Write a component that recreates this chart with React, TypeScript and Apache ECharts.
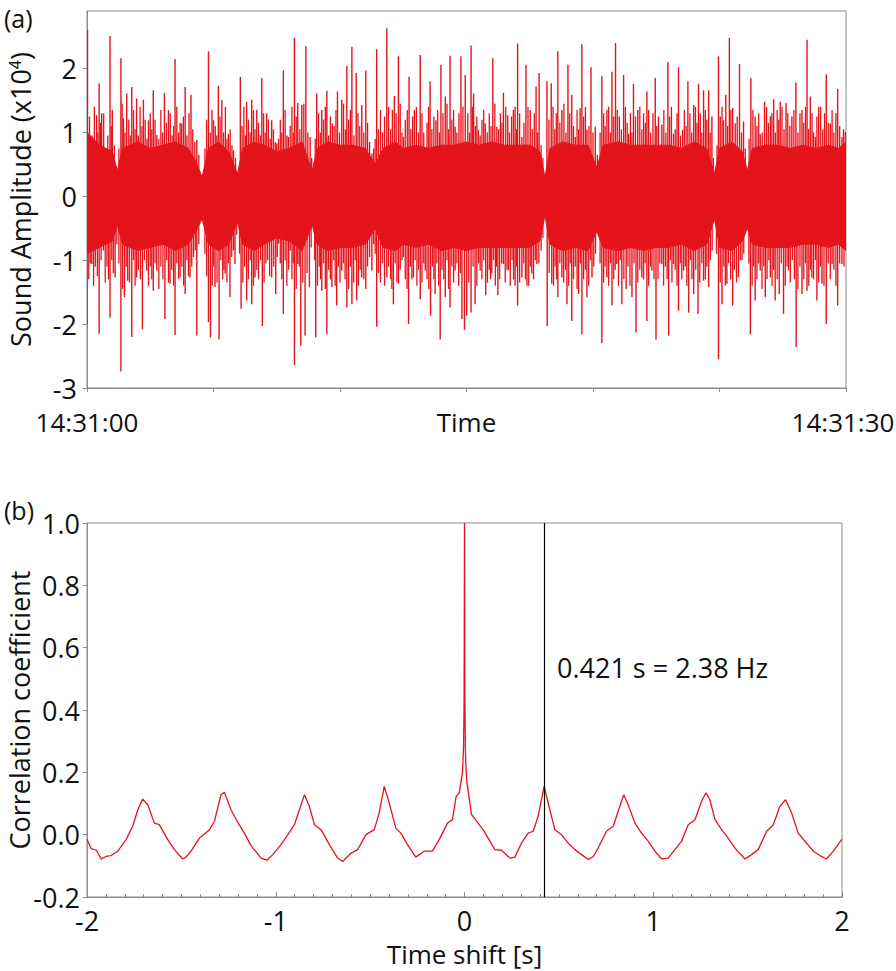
import { useEffect, useRef } from "react";
import * as echarts from "echarts";

// ---------- Panel (a): sound waveform (amplitude in units of 10^4) ----------
const timeTickSeconds = [0, 5, 10, 15, 20, 25, 30];
const timeTickLabels: Record<number, string> = { 0: "14:31:00", 15: "Time", 30: "14:31:30" };
const ampTicks = [-3, -2, -1, 0, 1, 2];

// dense core of the waveform (time in s from 14:31:00)
const coreTimes = [0, 0.5, 1.0, 1.2, 1.4, 2.0, 2.5, 3.0, 3.5, 4.0, 4.3, 4.55, 4.8, 5.2, 5.6, 5.95, 6.15, 6.6, 7.0, 7.5, 8.0, 8.5, 8.9, 9.1, 9.5, 10.0, 10.5, 11.0, 11.4, 11.7, 12.2, 12.5, 13.0, 13.5, 14.0, 14.5, 15.0, 15.5, 16.0, 16.5, 17.0, 17.5, 17.9, 18.1, 18.3, 18.8, 19.3, 19.8, 20.15, 20.4, 21.0, 21.5, 22.0, 22.5, 23.0, 23.5, 24.0, 24.5, 24.8, 25.0, 25.5, 25.9, 26.1, 26.3, 26.8, 27.3, 27.8, 28.3, 28.8, 29.3, 29.7, 30.0];
const coreTop = [1.0, 0.8, 0.7, 0.4, 0.75, 0.85, 0.75, 0.8, 0.85, 0.75, 0.55, 0.3, 0.75, 0.85, 0.7, 0.35, 0.75, 0.85, 0.8, 0.7, 0.75, 0.85, 0.4, 0.75, 0.85, 0.8, 0.8, 0.75, 0.5, 0.75, 0.85, 0.75, 0.8, 0.75, 0.8, 0.8, 0.85, 0.8, 0.85, 0.8, 0.8, 0.8, 0.7, 0.3, 0.75, 0.85, 0.8, 0.8, 0.45, 0.8, 0.85, 0.8, 0.8, 0.8, 0.8, 0.75, 0.85, 0.75, 0.35, 0.75, 0.85, 0.7, 0.4, 0.75, 0.8, 0.8, 0.75, 0.8, 0.75, 0.8, 0.75, 0.85];
const coreBot = [-0.9, -0.8, -0.7, -0.45, -0.75, -0.85, -0.8, -0.75, -0.85, -0.75, -0.55, -0.35, -0.75, -0.85, -0.75, -0.4, -0.75, -0.85, -0.75, -0.65, -0.7, -0.85, -0.45, -0.75, -0.85, -0.8, -0.8, -0.75, -0.5, -0.8, -0.85, -0.75, -0.8, -0.75, -0.85, -0.8, -0.85, -0.8, -0.8, -0.8, -0.8, -0.8, -0.7, -0.3, -0.75, -0.85, -0.8, -0.85, -0.55, -0.8, -0.85, -0.8, -0.85, -0.8, -0.8, -0.75, -0.85, -0.75, -0.35, -0.8, -0.85, -0.7, -0.5, -0.75, -0.8, -0.8, -0.8, -0.75, -0.75, -0.8, -0.75, -0.85];

// tall individual spikes [time s, amplitude]
const spikesUp: [number, number][] = [
  [0.02, 2.6], [0.38, 1.27], [0.48, 1.77], [0.58, 1.3], [0.74, 0.72], [0.91, 2.51], [1.0, 1.35], [1.34, 2.16], [1.44, 1.22], [1.57, 1.61], [1.77, 1.71], [1.96, 1.53], [2.23, 1.51], [2.43, 1.19], [2.62, 1.66], [2.76, 0.96], [3.06, 1.62], [3.22, 1.35], [3.48, 2.15], [3.74, 1.14], [3.88, 1.71], [4.11, 1.59], [4.34, 0.88], [4.8, 2.27], [5.0, 1.19], [5.19, 1.73], [5.33, 1.51], [5.59, 0.98], [5.79, 0.72], [6.06, 1.87], [6.31, 1.48], [6.51, 1.51], [6.71, 1.35], [6.91, 1.85], [7.1, 1.3], [7.3, 1.19], [7.5, 0.83],
  [7.76, 1.97], [7.96, 0.93], [8.2, 2.48], [8.33, 1.46], [8.49, 1.43], [8.65, 2.35], [8.82, 0.93], [9.08, 1.61], [9.28, 1.35], [9.48, 1.65], [9.7, 1.14], [9.9, 1.64], [10.07, 1.51], [10.27, 2.04], [10.47, 2.34], [10.64, 1.93], [10.86, 1.43], [11.02, 1.97], [11.26, 0.67], [11.45, 2.3], [11.85, 2.63], [12.07, 1.35], [12.15, 1.57], [12.31, 2.19], [12.51, 0.93], [12.73, 1.87], [12.94, 1.35], [13.17, 2.21], [13.37, 0.77], [13.56, 1.8], [13.79, 1.19], [13.99, 2.06], [14.16, 1.56], [14.35, 2.2], [14.55, 1.09], [14.78, 2.19], [14.95, 1.9],
  [15.18, 2.36], [15.28, 1.61], [15.47, 1.04], [15.74, 1.14], [16.04, 2.16], [16.2, 1.09], [16.46, 1.62], [16.63, 1.27], [16.92, 1.4], [17.02, 2.39], [17.19, 0.93], [17.35, 2.06], [17.52, 1.35], [17.75, 1.72], [17.87, 1.93], [18.18, 1.8], [18.35, 1.77], [18.61, 2.27], [18.77, 1.35], [19.01, 2.06], [19.16, 1.59], [19.3, 0.93], [19.49, 1.38], [19.56, 2.38], [19.76, 1.04], [19.92, 2.02], [20.09, 1.09], [20.35, 1.88], [20.55, 1.35], [20.75, 1.95], [20.89, 2.4], [21.04, 1.25], [21.21, 1.9], [21.41, 0.98], [21.6, 1.76], [21.77, 1.35], [22.13, 1.64], [22.46, 1.85],
  [22.59, 1.25], [22.72, 1.12], [22.96, 2.1], [23.18, 0.98], [23.38, 2.02], [23.54, 1.04], [23.75, 1.8], [23.98, 1.43], [24.17, 1.76], [24.37, 1.66], [24.57, 1.66], [24.7, 1.25], [24.96, 2.19], [25.16, 1.19], [25.25, 1.59], [25.39, 2.48], [25.52, 1.38], [25.62, 1.14], [25.79, 2.07], [25.95, 1.17], [26.24, 1.85], [26.41, 1.25], [26.61, 0.97], [26.78, 1.48], [27.01, 1.25], [27.14, 1.52], [27.4, 1.48], [27.63, 1.46], [27.86, 1.25], [28.02, 1.78], [28.26, 1.35], [28.46, 2.45], [28.59, 1.56], [28.79, 0.93], [28.92, 1.4], [29.22, 1.91], [29.38, 1.14], [29.67, 1.68], [29.84, 0.93], [29.97, 1.01],
];
const spikesDown: [number, number][] = [
  [0.0, -2.0], [0.19, -1.06], [0.48, -2.15], [0.65, -0.85], [0.91, -1.9], [1.11, -1.27], [1.34, -2.74], [1.48, -1.58], [1.61, -1.32], [1.77, -2.2], [1.96, -1.27], [2.19, -2.08], [2.36, -1.16], [2.62, -1.48], [2.76, -1.16], [3.08, -1.92], [3.28, -1.37], [3.48, -2.17], [3.68, -1.27], [3.88, -1.53], [4.07, -1.27], [4.34, -2.18], [4.8, -1.97], [4.88, -2.21], [5.06, -1.42], [5.22, -2.24], [5.46, -1.21], [5.65, -1.58], [5.85, -1.06], [6.09, -1.76], [6.31, -1.63], [6.51, -1.69], [6.64, -1.27], [6.93, -2.03], [7.14, -1.0], [7.3, -1.27], [7.46, -1.53],
  [7.57, -0.74], [7.76, -1.84], [8.03, -0.85], [8.2, -2.64], [8.33, -1.06], [8.45, -2.34], [8.62, -2.18], [8.79, -1.42], [9.04, -2.21], [9.28, -1.48], [9.48, -2.16], [9.68, -1.42], [9.87, -1.71], [10.07, -1.16], [10.27, -1.74], [10.47, -1.69], [10.66, -1.63], [10.86, -1.27], [11.02, -1.45], [11.26, -1.16], [11.45, -2.04], [11.85, -1.27], [12.11, -1.69], [12.31, -1.37], [12.51, -0.95], [12.71, -2.0], [12.9, -1.27], [13.17, -1.61], [13.37, -1.16], [13.58, -1.87], [13.76, -1.53], [13.96, -2.24], [14.16, -1.58], [14.35, -1.74], [14.55, -1.16], [14.82, -1.92], [14.92, -2.09],
  [15.01, -1.87], [15.18, -1.82], [15.34, -1.69], [15.54, -1.16], [15.76, -1.55], [16.0, -1.21], [16.24, -1.55], [16.46, -1.06], [16.66, -1.16], [16.92, -1.4], [17.02, -1.71], [17.19, -1.27], [17.39, -1.4], [17.58, -1.21], [17.78, -1.06], [18.19, -2.03], [18.37, -1.37], [18.61, -1.58], [18.77, -1.27], [18.97, -1.69], [19.16, -1.95], [19.43, -1.53], [19.56, -2.16], [19.76, -1.58], [19.96, -1.27], [20.35, -2.3], [20.55, -1.27], [20.75, -1.71], [20.94, -1.06], [21.14, -1.69], [21.31, -1.45], [21.54, -1.58], [21.7, -2.13], [21.93, -1.27], [22.13, -1.95], [22.33, -1.16], [22.49, -2.24],
  [22.72, -1.06], [22.99, -2.18], [23.18, -1.06], [23.38, -1.79], [23.58, -1.16], [23.78, -1.82], [23.98, -1.53], [24.15, -1.84], [24.37, -1.32], [24.57, -1.42], [24.96, -2.55], [25.1, -1.69], [25.29, -1.37], [25.52, -1.71], [25.75, -1.27], [25.89, -1.0], [26.22, -2.16], [26.41, -1.63], [26.61, -1.16], [26.81, -1.58], [27.01, -1.27], [27.2, -1.63], [27.36, -1.53], [27.53, -1.84], [27.73, -1.16], [28.03, -2.36], [28.26, -1.53], [28.46, -1.48], [28.65, -1.27], [28.85, -1.63], [29.05, -1.37], [29.22, -2.0], [29.45, -1.06], [29.67, -1.71], [29.84, -1.06],
];

// shorter spikes forming the ragged fringe of the core
const fringeUp: [number, number][] = [
  [0.1, 1.25], [0.2, 0.95], [0.29, 1.4], [0.43, 1.0], [0.53, 1.15], [0.66, 1.3], [0.82, 0.95], [0.96, 1.1], [1.08, 0.8], [1.26, 0.75], [1.39, 1.45], [1.5, 1.0], [1.65, 1.2], [1.71, 0.95], [1.84, 1.35], [1.9, 1.05], [2.03, 0.95], [2.1, 1.4], [2.17, 1.1], [2.3, 1.2], [2.37, 0.9], [2.5, 1.3], [2.56, 1.05], [2.69, 1.2], [2.84, 0.9], [2.92, 1.35], [2.99, 1.0], [3.14, 1.15], [3.29, 1.3], [3.36, 0.95], [3.42, 1.1], [3.55, 1.4], [3.62, 1.0], [3.68, 1.15], [3.81, 1.25], [3.95, 0.95], [4.03, 1.3], [4.18, 1.05], [4.26, 0.85], [4.42, 0.65], [4.66, 0.75], [4.73, 1.2], [4.87, 1.0], [4.94, 1.35], [5.07, 1.1], [5.13, 0.95], [5.26, 1.25], [5.4, 1.0], [5.47, 1.4], [5.53, 0.9], [5.66, 1.05], [5.73, 0.8], [5.87, 0.6], [6.13, 1.1], [6.2, 1.4], [6.26, 0.95], [6.38, 1.2], [6.45, 1.0], [6.58, 1.35], [6.64, 1.05], [6.78, 1.15], [6.85, 0.95], [6.98, 1.3], [7.04, 1.0], [7.17, 1.2], [7.24, 0.9], [7.37, 1.05], [7.44, 0.85],
  [7.57, 0.9], [7.64, 1.2], [7.7, 1.0], [7.83, 1.35], [7.9, 0.95], [8.03, 1.1], [8.1, 1.4], [8.15, 1.0], [8.27, 1.25], [8.41, 1.05], [8.57, 1.45], [8.73, 1.0], [8.88, 0.6], [9.02, 0.9], [9.15, 1.3], [9.22, 1.0], [9.35, 1.2], [9.42, 1.4], [9.55, 0.95], [9.62, 1.25], [9.77, 1.1], [9.84, 1.35], [9.98, 1.0], [10.14, 1.45], [10.21, 1.05], [10.34, 1.2], [10.41, 1.35], [10.55, 0.95], [10.71, 1.3], [10.78, 1.1], [10.94, 1.0], [11.09, 1.15], [11.17, 0.85], [11.33, 0.75], [11.39, 0.9], [11.52, 1.05], [11.6, 1.35], [11.68, 1.0], [11.76, 1.25], [11.92, 1.4], [12.0, 1.05], [12.22, 1.3], [12.38, 1.45], [12.45, 1.0], [12.58, 1.2], [12.66, 1.35], [12.8, 1.05], [12.87, 1.25], [13.02, 1.4], [13.1, 1.0], [13.24, 1.3], [13.31, 1.0], [13.44, 1.15], [13.5, 1.4], [13.63, 1.05], [13.71, 1.25], [13.86, 1.35], [13.93, 1.0], [14.07, 1.3], [14.23, 1.45], [14.29, 1.05], [14.42, 1.2], [14.49, 1.35], [14.62, 1.0], [14.7, 1.3], [14.86, 1.4],
  [15.05, 1.3], [15.12, 1.0], [15.23, 1.4], [15.35, 1.1], [15.41, 1.25], [15.54, 0.95], [15.61, 1.2], [15.68, 1.35], [15.82, 1.0], [15.9, 1.3], [15.97, 1.1], [16.12, 1.45], [16.27, 1.05], [16.34, 1.3], [16.4, 1.15], [16.55, 1.4], [16.7, 1.0], [16.78, 1.25], [16.85, 1.35], [16.97, 1.05], [17.1, 1.3], [17.27, 1.15], [17.43, 1.4], [17.6, 1.05], [17.68, 1.3], [17.81, 1.0], [17.95, 0.8], [18.02, 0.6], [18.26, 1.2], [18.42, 1.4], [18.49, 1.05], [18.55, 1.3], [18.69, 1.15], [18.85, 1.45], [18.93, 1.0], [19.08, 1.3], [19.23, 1.1], [19.37, 1.35], [19.43, 1.05], [19.63, 1.25], [19.7, 1.4], [19.84, 1.1], [20.0, 1.0], [20.17, 0.65], [20.28, 1.0], [20.42, 1.3], [20.48, 1.1], [20.62, 1.4], [20.69, 1.0], [20.82, 1.25], [20.96, 1.35], [21.12, 1.05], [21.28, 1.4], [21.35, 1.15], [21.48, 1.3], [21.54, 1.0], [21.68, 1.25], [21.85, 1.4], [21.93, 1.05], [22.0, 1.3], [22.07, 1.15], [22.2, 1.35], [22.28, 1.0], [22.37, 1.3],
  [22.52, 1.1], [22.8, 1.35], [22.88, 1.0], [23.03, 1.25], [23.1, 1.4], [23.25, 1.05], [23.32, 1.3], [23.46, 0.95], [23.61, 1.35], [23.68, 1.1], [23.83, 1.3], [23.9, 1.0], [24.05, 1.4], [24.11, 1.15], [24.24, 1.3], [24.3, 1.0], [24.44, 1.35], [24.5, 1.2], [24.63, 1.0], [24.76, 0.6], [24.9, 0.8], [25.03, 1.25], [25.1, 1.4], [25.32, 1.1], [25.45, 1.35], [25.7, 1.25], [25.87, 1.0], [26.02, 0.75], [26.17, 0.9], [26.32, 1.35], [26.48, 1.1], [26.55, 1.3], [26.69, 1.0], [26.86, 1.4], [26.93, 1.15], [27.07, 1.3], [27.21, 1.0], [27.28, 1.35], [27.34, 1.2], [27.47, 1.4], [27.55, 1.05], [27.7, 1.3], [27.78, 1.1], [27.94, 1.35], [28.1, 1.0], [28.18, 1.3], [28.33, 1.15], [28.4, 1.4], [28.52, 1.05], [28.66, 1.3], [28.72, 1.0], [28.85, 1.25], [29.0, 1.4], [29.08, 1.05], [29.15, 1.3], [29.3, 1.15], [29.45, 1.35], [29.52, 1.0], [29.6, 1.3], [29.75, 1.1], [29.9, 1.05],
];
const fringeDown: [number, number][] = [
  [0.07, -1.3], [0.13, -1.05], [0.26, -1.4], [0.33, -1.1], [0.41, -1.25], [0.56, -1.0], [0.72, -1.35], [0.79, -1.1], [0.85, -1.3], [0.98, -1.0], [1.04, -1.2], [1.18, -0.75], [1.26, -1.05], [1.41, -1.45], [1.55, -1.1], [1.68, -1.35], [1.84, -1.0], [1.9, -1.4], [2.03, -1.15], [2.11, -1.3], [2.27, -1.0], [2.43, -1.4], [2.5, -1.1], [2.56, -1.3], [2.69, -1.05], [2.84, -1.45], [2.92, -1.1], [3.0, -1.3], [3.15, -1.0], [3.22, -1.35], [3.35, -1.15], [3.42, -1.4], [3.55, -1.05], [3.62, -1.3], [3.75, -1.1], [3.82, -1.4], [3.95, -1.0], [4.01, -1.25], [4.14, -1.1], [4.21, -0.95], [4.28, -0.85], [4.42, -0.75], [4.66, -0.9], [4.73, -1.25], [4.95, -1.4], [5.01, -1.1], [5.14, -1.35], [5.29, -1.0], [5.36, -1.3], [5.41, -1.15], [5.53, -1.35], [5.59, -1.05], [5.72, -0.95], [5.79, -0.85], [5.92, -0.6], [6.03, -0.9], [6.16, -1.35], [6.23, -1.1], [6.38, -1.3], [6.45, -1.0], [6.58, -1.4], [6.71, -1.15], [6.78, -1.3], [6.86, -1.0], [7.0, -1.35], [7.07, -1.05], [7.22, -1.25], [7.38, -1.1], [7.52, -0.95],
  [7.64, -1.05], [7.7, -1.3], [7.83, -1.0], [7.9, -1.4], [7.97, -1.15], [8.1, -1.3], [8.15, -1.05], [8.27, -1.45], [8.39, -1.1], [8.53, -1.35], [8.7, -1.2], [8.86, -0.8], [9.0, -1.0], [9.11, -1.4], [9.18, -1.1], [9.23, -1.3], [9.35, -1.05], [9.42, -1.45], [9.55, -1.15], [9.62, -1.3], [9.75, -1.0], [9.81, -1.4], [9.94, -1.1], [10.0, -1.35], [10.14, -1.05], [10.2, -1.3], [10.34, -1.45], [10.41, -1.1], [10.54, -1.35], [10.6, -1.0], [10.73, -1.4], [10.8, -1.15], [10.94, -1.3], [11.09, -1.1], [11.17, -0.95], [11.33, -0.75], [11.39, -0.9], [11.52, -1.2], [11.6, -1.35], [11.68, -1.05], [11.76, -1.4], [11.92, -1.1], [12.0, -1.3], [12.05, -1.45], [12.18, -1.05], [12.25, -1.35], [12.38, -1.15], [12.45, -1.0], [12.58, -1.3], [12.65, -1.45], [12.78, -1.1], [12.84, -1.3], [12.97, -1.0], [13.04, -1.4], [13.11, -1.15], [13.24, -1.35], [13.31, -1.05], [13.44, -1.3], [13.51, -1.45], [13.65, -1.1], [13.71, -1.3], [13.83, -1.05], [13.9, -1.4], [14.03, -1.15], [14.1, -1.3], [14.23, -1.0], [14.29, -1.45], [14.42, -1.1], [14.49, -1.35], [14.62, -1.05], [14.69, -1.4], [14.76, -1.2],
  [15.09, -1.35], [15.26, -1.1], [15.41, -1.4], [15.48, -1.05], [15.61, -1.3], [15.68, -1.0], [15.83, -1.35], [15.9, -1.15], [15.95, -1.3], [16.07, -1.0], [16.14, -1.4], [16.19, -1.1], [16.31, -1.3], [16.39, -1.05], [16.53, -1.35], [16.6, -1.15], [16.73, -1.4], [16.8, -1.0], [16.86, -1.3], [16.97, -1.1], [17.1, -1.35], [17.26, -1.05], [17.33, -1.3], [17.46, -1.4], [17.52, -1.1], [17.65, -1.3], [17.72, -1.0], [17.86, -1.05], [17.95, -0.85], [18.02, -0.65], [18.27, -1.2], [18.44, -1.4], [18.5, -1.1], [18.56, -1.3], [18.69, -1.05], [18.84, -1.35], [18.91, -1.15], [19.04, -1.4], [19.1, -1.05], [19.23, -1.3], [19.3, -1.1], [19.37, -1.45], [19.5, -1.05], [19.63, -1.3], [19.7, -1.15], [19.83, -1.4], [19.9, -1.0], [20.03, -1.1], [20.1, -0.9], [20.28, -1.05], [20.42, -1.35], [20.48, -1.1], [20.62, -1.4], [20.69, -1.05], [20.82, -1.3], [20.88, -1.15], [21.01, -1.4], [21.08, -1.0], [21.22, -1.3], [21.38, -1.1], [21.46, -1.4], [21.62, -1.05], [21.77, -1.35], [21.85, -1.15], [22.0, -1.3], [22.06, -1.05], [22.2, -1.4], [22.27, -1.1], [22.41, -1.3],
  [22.57, -1.3], [22.64, -1.05], [22.79, -1.4], [22.86, -1.1], [22.93, -1.3], [23.06, -1.0], [23.12, -1.35], [23.25, -1.15], [23.32, -1.4], [23.45, -1.05], [23.51, -1.3], [23.65, -1.1], [23.71, -1.4], [23.85, -1.0], [23.91, -1.3], [24.06, -1.15], [24.22, -1.35], [24.3, -1.05], [24.44, -1.3], [24.5, -1.1], [24.64, -1.0], [24.71, -0.85], [24.88, -0.9], [25.03, -1.35], [25.17, -1.1], [25.23, -1.4], [25.36, -1.05], [25.44, -1.3], [25.59, -1.15], [25.67, -1.35], [25.82, -1.0], [25.96, -0.9], [26.16, -1.05], [26.29, -1.4], [26.35, -1.1], [26.48, -1.3], [26.55, -1.05], [26.68, -1.45], [26.75, -1.1], [26.88, -1.3], [26.95, -1.0], [27.08, -1.4], [27.14, -1.15], [27.28, -1.3], [27.44, -1.05], [27.6, -1.4], [27.67, -1.1], [27.8, -1.35], [27.88, -1.0], [27.96, -1.3], [28.1, -1.45], [28.18, -1.1], [28.33, -1.3], [28.4, -1.05], [28.53, -1.4], [28.59, -1.15], [28.72, -1.3], [28.79, -1.0], [28.92, -1.35], [28.99, -1.1], [29.13, -1.4], [29.3, -1.05], [29.38, -1.3], [29.52, -1.15], [29.6, -1.4], [29.75, -1.05], [29.92, -1.1],
];

// ---------- Panel (b): autocorrelation ----------
const lagSeconds = [-2.0, -1.978, -1.95, -1.925, -1.9, -1.872, -1.837, -1.793, -1.758, -1.731, -1.705, -1.678, -1.643, -1.617, -1.572, -1.537, -1.493, -1.475, -1.449, -1.404, -1.351, -1.325, -1.29, -1.272, -1.237, -1.202, -1.166, -1.131, -1.078, -1.046, -1.016, -0.972, -0.936, -0.901, -0.866, -0.848, -0.822, -0.795, -0.76, -0.716, -0.672, -0.645, -0.601, -0.566, -0.522, -0.478, -0.452, -0.425, -0.399, -0.364, -0.337, -0.302, -0.258, -0.214, -0.17, -0.134, -0.09, -0.064, -0.044, -0.028, -0.011, -0.005, -0.002, 0, 0.002, 0.005, 0.012, 0.037, 0.072, 0.099, 0.125, 0.161, 0.196, 0.24, 0.267, 0.302, 0.337, 0.364, 0.39, 0.422, 0.452, 0.479, 0.514, 0.549, 0.585, 0.62, 0.655, 0.682, 0.708, 0.752, 0.788, 0.823, 0.844, 0.867, 0.903, 0.938, 0.973, 1.009, 1.044, 1.079, 1.115, 1.15, 1.185, 1.221, 1.256, 1.279, 1.3, 1.327, 1.362, 1.397, 1.433, 1.486, 1.521, 1.556, 1.601, 1.636, 1.671, 1.701, 1.733, 1.768, 1.804, 1.848, 1.883, 1.918, 1.954, 2.0];
const correlation = [-0.015, -0.045, -0.05, -0.078, -0.07, -0.067, -0.053, -0.016, 0.027, 0.08, 0.114, 0.096, 0.037, 0.032, -0.016, -0.048, -0.078, -0.072, -0.053, -0.011, 0.016, 0.043, 0.128, 0.136, 0.08, 0.04, 0.005, -0.035, -0.075, -0.082, -0.064, -0.032, 0.0, 0.032, 0.096, 0.128, 0.091, 0.032, 0.016, -0.032, -0.075, -0.086, -0.059, -0.048, 0.0, 0.016, 0.07, 0.155, 0.102, 0.021, 0.005, -0.032, -0.072, -0.053, -0.053, -0.016, 0.037, 0.048, 0.123, 0.134, 0.198, 0.28, 0.44, 1.0, 0.44, 0.26, 0.17, 0.065, 0.037, 0.016, -0.011, -0.048, -0.05, -0.075, -0.072, -0.027, 0.005, 0.011, 0.059, 0.155, 0.08, 0.016, 0.0, -0.027, -0.048, -0.064, -0.08, -0.07, -0.043, 0.011, 0.027, 0.091, 0.128, 0.096, 0.037, 0.005, -0.021, -0.053, -0.078, -0.075, -0.048, -0.021, 0.032, 0.048, 0.107, 0.134, 0.112, 0.048, 0.016, -0.011, -0.043, -0.078, -0.064, -0.048, 0.011, 0.032, 0.091, 0.112, 0.07, 0.005, -0.021, -0.053, -0.067, -0.078, -0.053, -0.014];
const periodLag = 0.421;
const periodLabel = "0.421 s = 2.38 Hz";

const RED = "#e5141b";
const AX = "#8c8c8c";
const TXT = "#111111";
const FONT = "Open Sans";
const FS = 27;

export default function App() {
  const ref = useRef<HTMLDivElement>(null);
  useEffect(() => {
    const chart = echarts.init(ref.current!, null, { renderer: "svg" });
    const spikeRenderer = (width: number) => (_p: any, api: any) => {
      const t = api.value(0);
      const v = api.value(1);
      const p0 = api.coord([t, 0]);
      const p1 = api.coord([t, v]);
      return {
        type: "line",
        shape: { x1: p0[0], y1: p0[1], x2: p1[0], y2: p1[1] },
        style: { stroke: RED, lineWidth: width },
      };
    };
    const coreRenderer = (_p: any, api: any) => {
      const upper = coreTimes.map((t, i) => api.coord([t, coreTop[i]]));
      const lower = coreTimes.map((t, i) => api.coord([t, coreBot[i]])).reverse();
      return {
        type: "polygon",
        shape: { points: upper.concat(lower) },
        style: { fill: RED, stroke: RED, lineWidth: 1 },
      };
    };
    const option: any = {
      animation: false,
      backgroundColor: "#ffffff",
      textStyle: { fontFamily: FONT, color: TXT },
      grid: [
        { left: 87, top: 11, width: 759, height: 377, show: true, borderColor: AX, borderWidth: 1, backgroundColor: "transparent", outerBoundsMode: "none" },
        { left: 87, top: 523, width: 755, height: 374, show: true, borderColor: AX, borderWidth: 1, backgroundColor: "transparent", outerBoundsMode: "none" },
      ],
      xAxis: [
        {
          type: "value", gridIndex: 0, min: 0, max: 30, interval: 5,
          axisLine: { show: true, onZero: false, lineStyle: { color: AX, width: 1 } },
          axisTick: { show: true, length: 4, inside: false, lineStyle: { color: AX }, customValues: timeTickSeconds },
          axisLabel: {
            show: true, fontSize: 26, color: TXT, fontFamily: FONT, margin: 22, lineHeight: 24,
            customValues: [0, 15, 30],
            formatter: (v: number) => {
              const s = timeTickLabels[Math.round(v)] ?? "";
              return Math.round(v) === 30 ? "{r|" + s + "}" : s;
            },
            rich: { r: { fontSize: 26, color: TXT, fontFamily: FONT, lineHeight: 24, padding: [0, 6, 0, 0] } },
          },
          splitLine: { show: false },
        },
        {
          type: "value", gridIndex: 1, min: -2, max: 2, interval: 1,
          axisLine: { show: true, onZero: false, lineStyle: { color: AX, width: 1 } },
          axisTick: { show: true, length: 5, inside: true, lineStyle: { color: AX } },
          minorTick: { show: true, splitNumber: 10, length: 3, lineStyle: { color: AX } },
          axisLabel: { fontSize: FS, color: TXT, fontFamily: FONT, margin: 11, lineHeight: 24, formatter: (v: number) => String(v) },
          splitLine: { show: false },
          name: "Time shift [s]", nameLocation: "middle", nameGap: 45, nameMoveOverlap: false,
          nameTextStyle: { fontSize: 26, color: TXT, fontFamily: FONT, lineHeight: 24 },
        },
      ],
      yAxis: [
        {
          type: "value", gridIndex: 0, min: -3, max: 2.9, interval: 1,
          axisLine: { show: true, onZero: false, lineStyle: { color: AX, width: 1 } },
          axisTick: { show: true, length: 4, lineStyle: { color: AX }, customValues: ampTicks },
          axisLabel: { fontSize: FS, color: TXT, fontFamily: FONT, margin: 10, lineHeight: 24, customValues: ampTicks, formatter: (v: number) => String(v) },
          splitLine: { show: false },
          name: "{m|Sound Amplitude (x10}{s|4}{m|)}",
          nameLocation: "middle", nameGap: 54, nameRotate: 90, nameMoveOverlap: false,
          nameTextStyle: {
            fontSize: FS, color: TXT, fontFamily: FONT, lineHeight: 26,
            rich: {
              m: { fontSize: FS, color: TXT, fontFamily: FONT, lineHeight: 26 },
              s: { fontSize: 16, color: TXT, fontFamily: FONT, verticalAlign: "top", lineHeight: 26 },
            },
          },
        },
        {
          type: "value", gridIndex: 1, min: -0.2, max: 1.0, interval: 0.2,
          axisLine: { show: true, onZero: false, lineStyle: { color: AX, width: 1 } },
          axisTick: { show: true, length: 4, lineStyle: { color: AX } },
          axisLabel: { fontSize: FS, color: TXT, fontFamily: FONT, margin: 7, lineHeight: 24, formatter: (v: number) => v.toFixed(1) },
          splitLine: { show: false },
          name: "Correlation coefficient", nameLocation: "middle", nameGap: 55, nameRotate: 90, nameMoveOverlap: false,
          nameTextStyle: { fontSize: FS, color: TXT, fontFamily: FONT, lineHeight: 26 },
        },
      ],
      series: [
        {
          type: "custom", xAxisIndex: 0, yAxisIndex: 0, silent: true, clip: true,
          encode: { x: 0, y: 1 },
          data: [[coreTimes[0], coreTop[0]]],
          renderItem: coreRenderer,
        },
        {
          type: "custom", xAxisIndex: 0, yAxisIndex: 0, silent: true, clip: true,
          encode: { x: 0, y: 1 },
          data: fringeUp.concat(fringeDown),
          renderItem: spikeRenderer(1.3),
        },
        {
          type: "custom", xAxisIndex: 0, yAxisIndex: 0, silent: true, clip: true,
          encode: { x: 0, y: 1 },
          data: spikesUp.concat(spikesDown),
          renderItem: spikeRenderer(1.4),
        },
        {
          type: "line", xAxisIndex: 1, yAxisIndex: 1, symbol: "none", silent: true,
          data: lagSeconds.map((t, i) => [t, correlation[i]]),
          lineStyle: { color: RED, width: 1.3 }, itemStyle: { color: RED },
          markLine: {
            silent: true, symbol: ["none", "none"], animation: false,
            label: { show: false },
            lineStyle: { color: "#000000", width: 1.2, type: "solid" },
            data: [{ xAxis: periodLag }],
          },
        },
      ],
      graphic: [
        { type: "text", x: 4, y: 18, style: { text: "(a)", fontSize: 25, fontFamily: FONT, fill: TXT, verticalAlign: "middle", align: "left", lineHeight: 26 } },
        { type: "text", x: 4, y: 510, style: { text: "(b)", fontSize: 25, fontFamily: FONT, fill: TXT, verticalAlign: "middle", align: "left", lineHeight: 26 } },
        { type: "text", x: 557, y: 667, style: { text: periodLabel, fontSize: FS, fontFamily: FONT, fill: TXT, verticalAlign: "middle", align: "left", lineHeight: 28 } },
      ],
    };
    chart.setOption(option);
    return () => chart.dispose();
  }, []);
  return <div ref={ref} style={{ position: "absolute", left: 0, top: 0, width: 896, height: 971, background: "#fff" }} />;
}
